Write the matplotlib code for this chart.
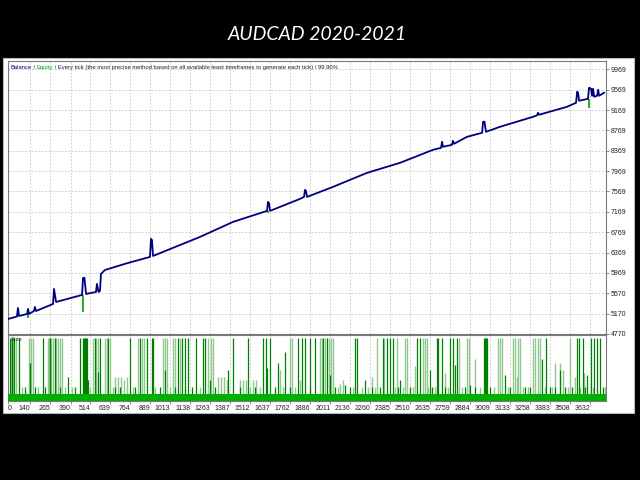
import matplotlib
matplotlib.use("Agg")
import matplotlib.pyplot as plt
from matplotlib.patches import Rectangle
import numpy as np

# ---------------- data ----------------
title = "AUDCAD 2020-2021"
x_ticks = [0, 140, 265, 390, 514, 639, 764, 889, 1013, 1138, 1263, 1387, 1512, 1637,
           1762, 1886, 2011, 2136, 2260, 2385, 2510, 2635, 2759, 2884, 3009, 3133,
           3258, 3383, 3508, 3632]
y_ticks = [4770, 5170, 5570, 5969, 6369, 6769, 7169, 7569, 7969, 8369, 8769, 9169, 9569, 9969]

balance_trades = [0, 56, 62, 69, 119, 125, 131, 162, 168, 175, 281, 287, 300, 462, 468, 477,
                  487, 549, 555, 565, 574, 580, 605, 749, 886, 892, 898, 905, 1198, 1404,
                  1616, 1622, 1628, 1635, 1822, 1847, 1853, 1859, 1866, 2028, 2240, 2446,
                  2652, 2702, 2708, 2714, 2770, 2776, 2783, 2864, 2958, 2964, 2973, 2982,
                  3070, 3276, 3301, 3307, 3313, 3488, 3544, 3551, 3557, 3563, 3619, 3625,
                  3638, 3644, 3650, 3657, 3675, 3682, 3688, 3719]
balance_values = [5065, 5114, 5281, 5124, 5163, 5262, 5163, 5222, 5301, 5222, 5360, 5655, 5399,
                  5537, 5871, 5871, 5556, 5596, 5753, 5596, 5615, 5950, 6028, 6166, 6284, 6638,
                  6618, 6303, 6677, 6972, 7188, 7365, 7345, 7188, 7424, 7463, 7601, 7581, 7463,
                  7660, 7935, 8132, 8388, 8427, 8545, 8447, 8486, 8564, 8506, 8643, 8722, 8938,
                  8938, 8741, 8840, 9036, 9066, 9115, 9076, 9233, 9311, 9528, 9508, 9351, 9390,
                  9606, 9587, 9449, 9587, 9429, 9449, 9567, 9449, 9508]

equity_dip_trades = [125, 468, 1622, 3625]
equity_dip_top = [5163, 5537, 7188, 9390]
equity_dip_low = [5085, 5203, 7149, 9215]

n_trades = 3731
base_lot = 0.01

dark_tall_trades = [12, 25, 37, 69, 218, 262, 293, 449, 468, 474, 480, 487, 493, 543, 574, 624,
                    761, 824, 867, 899, 905, 1061, 1086, 1104, 1123, 1173, 1217, 1229, 1404,
                    1497, 1591, 1610, 1635, 1809, 1834, 1853, 1884, 1915, 1965, 1990, 2165,
                    2177, 2340, 2365, 2383, 2402, 2552, 2571, 2676, 2683, 2708, 2758, 2776,
                    2801, 2970, 2976, 2982, 2989, 3357, 3551, 3563, 3588, 3638, 3657, 3675, 3694]
dark_tall_size = 0.09

dark_mid_trades = [137, 374, 499, 562, 980, 1260, 1373, 1616, 1685, 1728, 2009, 2103, 2227,
                   2446, 2633, 2789, 2882, 3101, 3332, 3444, 3613]
dark_mid_sizes = [0.055, 0.035, 0.03, 0.042, 0.045, 0.03, 0.045, 0.047, 0.055, 0.07, 0.037,
                  0.023, 0.03, 0.03, 0.045, 0.052, 0.023, 0.037, 0.06, 0.045, 0.037]

dark_small_trades = [106, 168, 231, 324, 418, 668, 699, 792, 948, 1042, 1148, 1291, 1447, 1541,
                     1666, 1759, 2040, 2134, 2271, 2321, 2433, 2508, 2645, 2726, 2851, 2914,
                     3007, 3132, 3226, 3257, 3382, 3413, 3475, 3519, 3600, 3713]
dark_small_size = 0.02

light_tall_trades = [19, 31, 50, 131, 144, 156, 250, 256, 268, 281, 299, 312, 324, 337, 530,
                     549, 562, 605, 618, 636, 811, 836, 849, 967, 980, 992, 1030, 1042, 1073,
                     1248, 1267, 1279, 1759, 1772, 1947, 1959, 1978, 2003, 2015, 2028, 2302,
                     2346, 2427, 2477, 2489, 2589, 2602, 2614, 2814, 2864, 2876, 3057, 3070,
                     3082, 3151, 3163, 3182, 3194, 3276, 3288, 3307, 3319, 3507]
light_tall_size = 0.09

light_mid_trades = [668, 686, 705, 724, 742, 1310, 1329, 1348, 1366, 1447, 1466, 1485, 1529,
                    1547, 1697, 1822, 2071, 2090, 2271, 2539, 2726, 2914, 3176, 3413, 3444,
                    3463, 3538, 3594]
light_mid_sizes = [0.035, 0.035, 0.035, 0.03, 0.035, 0.035, 0.035, 0.035, 0.03, 0.03, 0.03,
                   0.03, 0.03, 0.03, 0.045, 0.03, 0.025, 0.03, 0.035, 0.05, 0.04, 0.06, 0.035,
                   0.055, 0.055, 0.045, 0.035, 0.04]

light_small_trades = [87, 187, 356, 399, 512, 655, 780, 917, 1011, 1104, 1198, 1373, 1510,
                      1572, 1716, 1791, 1884, 2059, 2152, 2209, 2246, 2290, 2415, 2464, 2527,
                      2620, 2664, 2745, 2833, 2945, 3032, 3120, 3213, 3244, 3351, 3394, 3494,
                      3569, 3650, 3725]
light_small_size = 0.02

# ---------------- style ----------------
W, H = 640, 480
BAL = "#000080"
EQ = "#00a000"
DARKG = "#008000"
LIGHTG = "#8fc98f"
BASEG = "#00b000"
GRID = "#c4c4c4"
SPINE = "#7a7a7a"
TXT = "#202020"
FONT = "Liberation Sans"


def fx(px):
    return px / W


def fy(py):
    return 1 - py / H


fig = plt.figure(figsize=(6.4, 4.8), dpi=100, facecolor="black")

# white report panel (behind the axes)
fig.patches.append(Rectangle((fx(3), fy(413)), fx(631), 355 / H, transform=fig.transFigure,
                             facecolor="white", edgecolor="#b8b8b8", lw=0.8, zorder=-5))

fig.text(fx(317), fy(35), title, color="white", fontsize=14, style="italic",
         family="Lato", ha="center", va="center")

ax = fig.add_axes([fx(8), fy(334), fx(598), 273 / H])
ax2 = fig.add_axes([fx(8), fy(401), fx(598), 66 / H])

XMAX = 3731
for a in (ax, ax2):
    a.set_facecolor("white")
    a.set_xlim(0, XMAX)
    a.set_xticks(x_ticks)
    for s in a.spines.values():
        s.set_color(SPINE)
        s.set_linewidth(0.8)
    a.grid(axis="x", color=GRID, linestyle=(0, (2, 2)), linewidth=0.6)
    a.set_axisbelow(True)

# main chart
ax.set_ylim(4770, 10132)
ax.set_yticks(y_ticks)
ax.set_yticklabels([str(v) for v in y_ticks])
ax.yaxis.tick_right()
ax.grid(axis="y", color=GRID, linestyle=(0, (2, 2)), linewidth=0.6)
ax.tick_params(axis="y", right=True, left=False, length=2, width=0.6, color=SPINE, pad=1.5,
               labelsize=5, labelcolor=TXT)
ax.tick_params(axis="x", bottom=False, labelbottom=False)
for lab in ax.get_yticklabels():
    lab.set_family(FONT)

ax.vlines(equity_dip_trades, equity_dip_low, equity_dip_top, color=EQ, lw=1.2, zorder=2)
ax.plot(balance_trades, balance_values, color=BAL, lw=1.3, zorder=3)

# legend text
t1 = ax.text(0.004, 0.985, "Balance", transform=ax.transAxes, color=BAL, fontsize=4.2,
             family=FONT, va="top", ha="left")
t2 = ax.annotate(" / ", xy=(1, 0), xycoords=t1, va="bottom", ha="left", color=TXT,
                 fontsize=4.2, family=FONT)
t3 = ax.annotate("Equity", xy=(1, 0), xycoords=t2, va="bottom", ha="left", color=EQ,
                 fontsize=4.2, family=FONT)
ax.annotate(" / Every tick (the most precise method based on all available least timeframes "
            "to generate each tick) / 99.90%", xy=(1, 0), xycoords=t3, va="bottom", ha="left",
            color=TXT, fontsize=4.2, family=FONT)

# size panel
ax2.set_ylim(0, 0.095)
ax2.set_yticks([])
ax2.vlines(light_tall_trades, 0, light_tall_size, color=LIGHTG, lw=1.0, zorder=2)
ax2.vlines(light_mid_trades, 0, light_mid_sizes, color=LIGHTG, lw=1.0, zorder=2)
ax2.vlines(light_small_trades, 0, light_small_size, color=LIGHTG, lw=1.0, zorder=2)
ax2.vlines(dark_tall_trades, 0, dark_tall_size, color=DARKG, lw=0.9, zorder=3)
ax2.vlines(dark_mid_trades, 0, dark_mid_sizes, color=DARKG, lw=0.9, zorder=3)
ax2.vlines(dark_small_trades, 0, dark_small_size, color=DARKG, lw=0.9, zorder=3)
ax2.bar(np.arange(n_trades), base_lot, width=1.0, color=BASEG, linewidth=0, zorder=4)
ax2.text(0.004, 0.97, "Size", transform=ax2.transAxes, fontsize=4.2, family=FONT, color=TXT,
         va="top", ha="left")

ax2.set_xticklabels([str(v) for v in x_ticks])
ax2.tick_params(axis="x", bottom=True, length=2, width=0.6, color=SPINE, pad=1,
                labelsize=5, labelcolor=TXT)
for i, lab in enumerate(ax2.get_xticklabels()):
    lab.set_family(FONT)
    lab.set_ha("left" if i == 0 else "right")

fig.savefig("out.png", dpi=100, facecolor="black")
